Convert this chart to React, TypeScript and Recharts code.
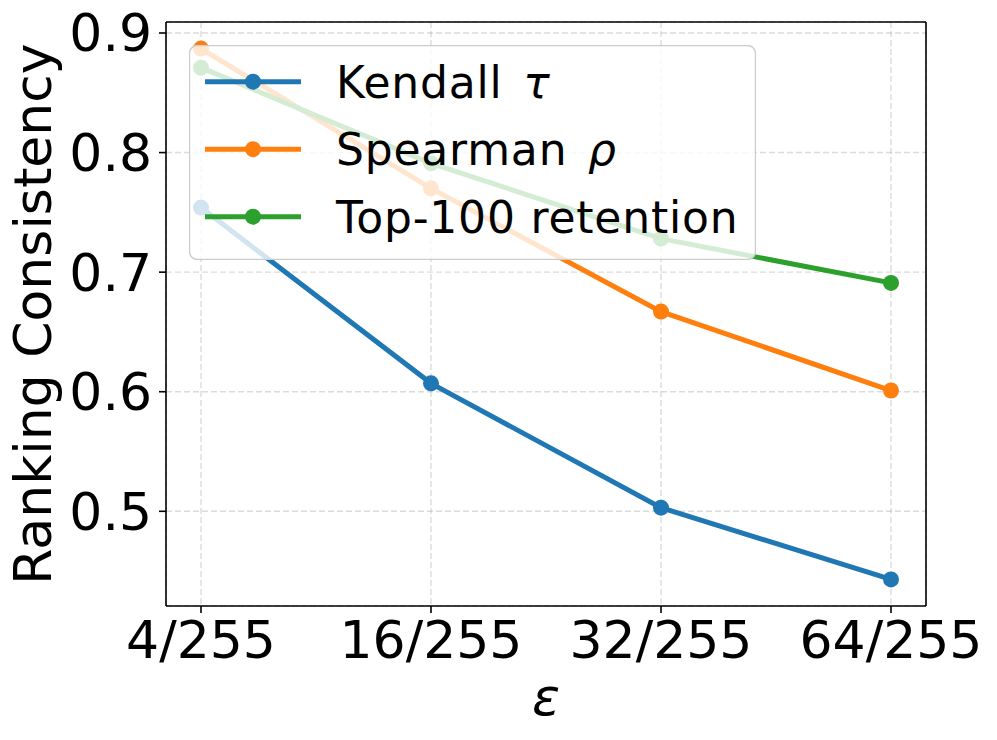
import React from 'react';
import { LineChart, Line, XAxis, YAxis, CartesianGrid, Legend } from 'recharts';

const epsilons = ['4/255', '16/255', '32/255', '64/255'];
const kendall = [0.754, 0.607, 0.503, 0.443];
const spearman = [0.887, 0.770, 0.667, 0.601];
const top100 = [0.871, 0.791, 0.728, 0.691];
const yTicks = [0.5, 0.6, 0.7, 0.8, 0.9];

const seriesNames = { kendall: 'Kendall τ', spearman: 'Spearman ρ', top100: 'Top-100 retention' };

const data = epsilons.map((eps, i) => ({
  eps,
  kendall: kendall[i],
  spearman: spearman[i],
  top100: top100[i],
}));

const FONT = '"DejaVu Sans", sans-serif';
const Y_DOMAIN = [0.4208, 0.9092];

function YLabel(props: any) {
  const vb = props.viewBox || { x: 0, y: 22, width: 166, height: 584 };
  const cx = vb.x + 51;
  const cy = vb.y + vb.height / 2;
  return (
    <text x={cx} y={cy} transform={`rotate(-90 ${cx} ${cy})`} textAnchor="middle" fontSize={52} fill="#000" fontFamily={FONT}>
      Ranking Consistency
    </text>
  );
}

function XLabel(props: any) {
  const vb = props.viewBox || { x: 166, y: 606, width: 760, height: 134 };
  return (
    <text x={vb.x + vb.width / 2} y={vb.y + 109} textAnchor="middle" fontSize={52} fontStyle="italic" fill="#000" fontFamily={FONT}>
      ε
    </text>
  );
}

// matplotlib-style legend box, semi transparent so the lines show through
function LegendBox(props: any) {
  const payload = props.payload || [];
  return (
    <svg width={567} height={215} style={{ display: 'block' }}>
      <rect x={0.5} y={0.5} width={566} height={214} rx={8} fill="#fff" fillOpacity={0.8} stroke="#cccccc" strokeWidth={1.4} />
      {payload.map((p: any, i: number) => {
        const cy = 36.7 + i * 67.5;
        const label: string = p.value;
        const sp = label.lastIndexOf(' ');
        const greek = label.endsWith('τ') || label.endsWith('ρ');
        return (
          <g key={label}>
            <line x1={16} x2={112} y1={cy} y2={cy} stroke={p.color} strokeWidth={5} />
            <circle cx={64} cy={cy} r={8} fill={p.color} />
            <text x={147} y={cy + 16} fontSize={44} fill="#000" fontFamily={FONT} letterSpacing={0.8}>
              {greek ? (
                <>
                  {label.slice(0, sp + 1)}
                  <tspan dx={6} fontStyle="italic">{label.slice(sp + 1)}</tspan>
                </>
              ) : label}
            </text>
          </g>
        );
      })}
    </svg>
  );
}

export default function App() {
  return (
    <div style={{ position: 'absolute', left: 0, top: 0, width: 997, height: 740, background: '#fff', fontFamily: FONT }}>
      <LineChart width={997} height={740} data={data} margin={{ top: 21, right: 70, bottom: 0, left: 0 }}>
        <CartesianGrid stroke="#b0b0b0" strokeOpacity={0.45} strokeWidth={1.4} strokeDasharray="6 3" />
        <XAxis
          dataKey="eps"
          type="category"
          padding={{ left: 35, right: 35 }}
          height={134}
          tickSize={7}
          tickMargin={8}
          axisLine={{ stroke: '#000', strokeWidth: 1.6 }}
          tickLine={{ stroke: '#000', strokeWidth: 1.6 }}
          tick={{ fontSize: 52, fill: '#000' }}
          interval={0}
          label={<XLabel />}
        />
        <XAxis xAxisId="top" dataKey="eps" orientation="top" height={1} tick={false} tickLine={false} axisLine={{ stroke: '#000', strokeWidth: 1.6 }} />
        <YAxis
          type="number"
          domain={Y_DOMAIN}
          ticks={yTicks}
          allowDataOverflow
          width={166}
          tickSize={7}
          tickMargin={7}
          axisLine={{ stroke: '#000', strokeWidth: 1.6 }}
          tickLine={{ stroke: '#000', strokeWidth: 1.6 }}
          tick={{ fontSize: 52, fill: '#000' }}
          tickFormatter={(v: number) => v.toFixed(1)}
          label={<YLabel />}
        />
        <YAxis yAxisId="right" orientation="right" width={1} domain={Y_DOMAIN} tick={false} tickLine={false} axisLine={{ stroke: '#000', strokeWidth: 1.6 }} />
        <Legend
          layout="vertical"
          align="center"
          verticalAlign="middle"
          content={<LegendBox />}
          wrapperStyle={{ position: 'absolute', left: 189, top: 45, width: 567, height: 215 }}
        />
        <Line type="linear" dataKey="kendall" name={seriesNames.kendall} stroke="#1f77b4" strokeWidth={5} dot={{ r: 8, fill: '#1f77b4', stroke: '#1f77b4', strokeWidth: 0 }} activeDot={false} isAnimationActive={false} />
        <Line type="linear" dataKey="spearman" name={seriesNames.spearman} stroke="#ff7f0e" strokeWidth={5} dot={{ r: 8, fill: '#ff7f0e', stroke: '#ff7f0e', strokeWidth: 0 }} activeDot={false} isAnimationActive={false} />
        <Line type="linear" dataKey="top100" name={seriesNames.top100} stroke="#2ca02c" strokeWidth={5} dot={{ r: 8, fill: '#2ca02c', stroke: '#2ca02c', strokeWidth: 0 }} activeDot={false} isAnimationActive={false} />
      </LineChart>
    </div>
  );
}
